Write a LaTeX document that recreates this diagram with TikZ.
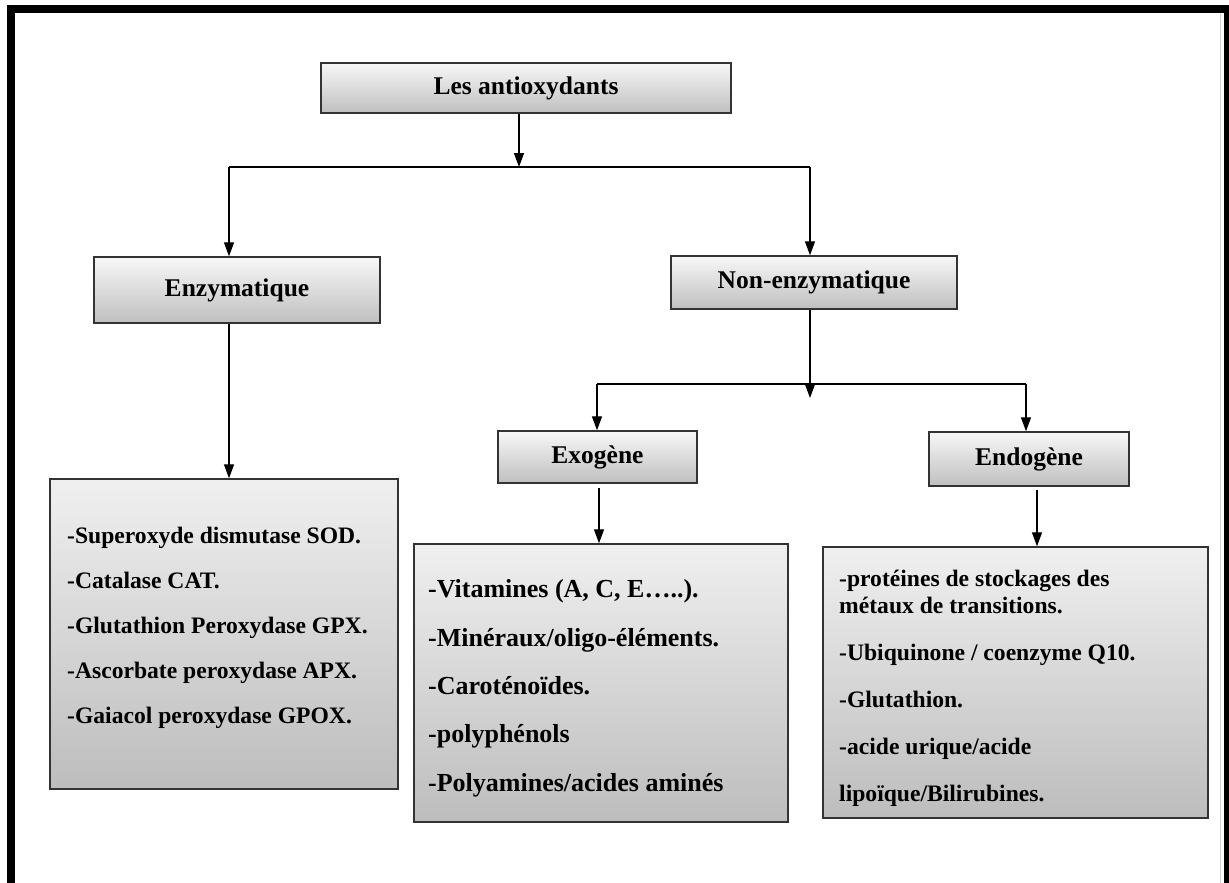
\documentclass[tikz,border=0pt]{standalone}
\usepackage{fontspec}
\setmainfont{Liberation Serif}
\usetikzlibrary{arrows.meta,calc}
\begin{document}
\begin{tikzpicture}[x=1pt,y=-1pt,
  box/.style={draw=black!80, line width=1.4pt, top color=gray!6, bottom color=gray!50, inner sep=0pt, font=\fontsize{25.5}{30}\selectfont\bfseries},
  listbox/.style={draw=black!80, line width=1.4pt, top color=gray!12, bottom color=gray!52, inner sep=0pt},
  arr/.style={line width=1.3pt, -{Triangle[length=14pt,width=10pt]}},
  conn/.style={line width=1.3pt},
  listtext/.style={anchor=base west, align=left, inner sep=0pt}]
\useasboundingbox (0,0) rectangle (1229,883);
% frame
\draw[line width=8pt] (11,895) -- (11,9) -- (1228,9) -- (1228,895);
\draw[gray!35, line width=1pt] (1220,13) -- (1220,883);
% heading boxes
\node[box, minimum width=410pt, minimum height=50pt] (top) at (526,88) {Les antioxydants};
\node[box, minimum width=286pt, minimum height=66pt] (enz) at (237,290) {Enzymatique};
\node[box, minimum width=286pt, minimum height=53pt] (nonenz) at (814,282.5) {Non-enzymatique};
\node[box, minimum width=199pt, minimum height=52pt] (exo) at (597.5,457) {Exogène};
\node[box, minimum width=200pt, minimum height=54pt] (endo) at (1029,459) {Endogène};
% list boxes
\node[listbox, minimum width=348pt, minimum height=310pt] (enzbox) at (224,634) {};
\node[listbox, minimum width=374pt, minimum height=278pt] (exobox) at (601,683) {};
\node[listbox, minimum width=385pt, minimum height=271pt] (endobox) at (1015.5,682.5) {};
% list texts (base anchor = baseline of last line)
\node[listtext, font=\fontsize{23.6}{45}\selectfont\bfseries] (enztext) at (67,723)
  {-Superoxyde dismutase SOD.\\-Catalase CAT.\\-Glutathion Peroxydase GPX.\\-Ascorbate peroxydase APX.\\-Gaiacol peroxydase GPOX.};
\node[listtext, font=\fontsize{26}{48.3}\selectfont\bfseries] (exotext) at (428,791)
  {-Vitamines (A, C, E…..).\\-Minéraux/oligo-éléments.\\-Caroténoïdes.\\-polyphénols\\-Polyamines/acides aminés};
\node[listtext, font=\fontsize{23.6}{27}\selectfont\bfseries] (endotext) at (839,801)
  {-protéines de stockages des\\métaux de transitions.\\[20pt]-Ubiquinone / coenzyme Q10.\\[20pt]-Glutathion.\\[20pt]-acide urique/acide\\[20pt]lipoïque/Bilirubines.};
% connectors
\coordinate (j1) at (519,167);
\coordinate (jl) at (229,167);
\coordinate (jr) at (810,167);
\draw[arr] (top.south -| j1) -- (j1);
\draw[conn] (jl) -- (jr);
\draw[arr] (jl) -- (jl |- enz.north);
\draw[arr] (jr) -- (jr |- nonenz.north);
\draw[arr] (jl |- enz.south) -- (jl |- enzbox.north);
\coordinate (j2) at (810,398);
\coordinate (jel) at (597,384);
\coordinate (jer) at (1026,384);
\draw[arr] (jr |- nonenz.south) -- (j2);
\draw[conn] (jel) -- (jer);
\draw[arr] (jel) -- (jel |- exo.north);
\draw[arr] (jer) -- (jer |- endo.north);
\coordinate (xk) at (599,488);
\coordinate (ek) at (1037,490);
\draw[arr] (xk) -- (xk |- exobox.north);
\draw[arr] (ek) -- (ek |- endobox.north);
\end{tikzpicture}
\end{document}
